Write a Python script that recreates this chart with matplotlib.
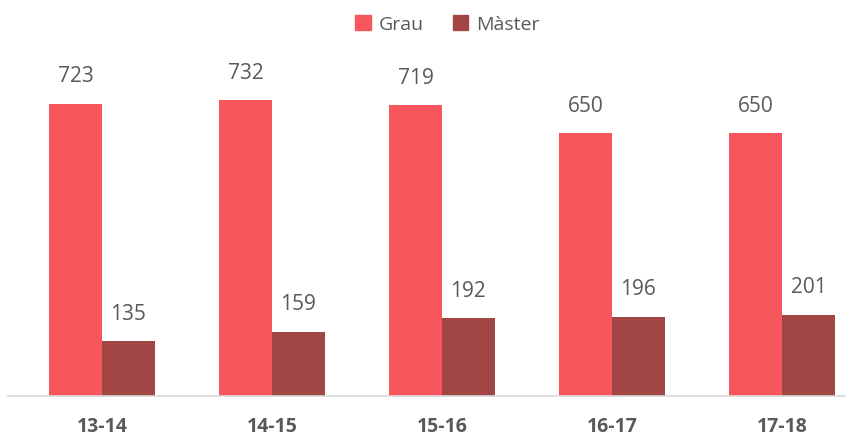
import numpy as np
import matplotlib.pyplot as plt
from matplotlib.patches import Patch

plt.rcParams['font.family'] = ['Open Sans', 'DejaVu Sans']

cursos = ['13-14', '14-15', '15-16', '16-17', '17-18']
grau = [723, 732, 719, 650, 650]
master = [135, 159, 192, 196, 201]

col_grau = '#F7575C'
col_master = '#A14545'
gris = '#595959'

fig = plt.figure(figsize=(8.52, 4.38), dpi=100)
ax = fig.add_axes([8 / 852, 42 / 438, 837 / 852, 356 / 438])

x = np.arange(len(cursos))
w = 0.31
b1 = ax.bar(x - w / 2, grau, w, color=col_grau, label='Grau')
b2 = ax.bar(x + w / 2, master, w, color=col_master, label='Màster')

for rects in (b1, b2):
    for r in rects:
        ax.annotate(f'{int(r.get_height())}',
                    xy=(r.get_x() + r.get_width() / 2, r.get_height()),
                    xytext=(0, 12), textcoords='offset points',
                    ha='center', va='bottom', fontsize=15, color=gris)

ax.set_xlim(-0.553, 4.37)
ax.set_ylim(0, 881)
ax.set_xticks(x)
ax.set_xticklabels(cursos, fontsize=14, fontweight='bold', color=gris)
ax.tick_params(axis='x', length=0, pad=15)
ax.set_yticks([])
for s in ['top', 'right', 'left']:
    ax.spines[s].set_visible(False)
ax.spines['bottom'].set_color('#D9D9D9')
ax.spines['bottom'].set_linewidth(1.2)

handles = [Patch(color=col_grau, label='Grau'), Patch(color=col_master, label='Màster')]
fig.legend(handles=handles, loc='upper center', bbox_to_anchor=(0.525, 1.005), ncol=2,
           frameon=False, fontsize=14, labelcolor=gris, handlelength=0.8,
           handleheight=0.8, handletextpad=0.4, columnspacing=1.5)

fig.savefig('out.png', dpi=100)
